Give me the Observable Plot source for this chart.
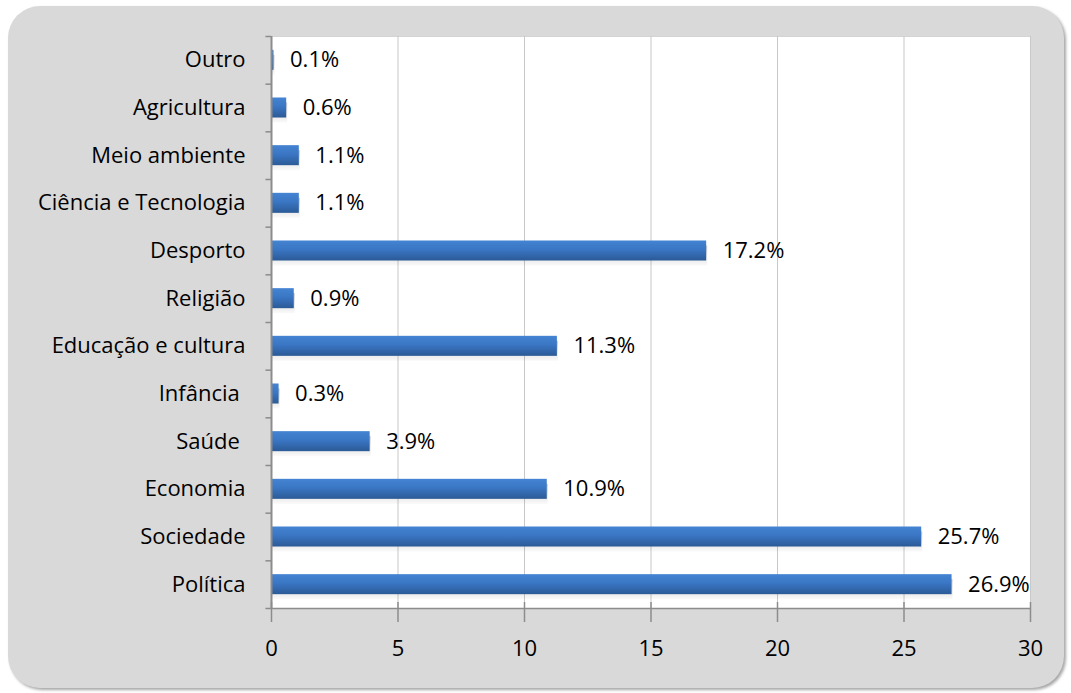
<!DOCTYPE html>
<html>
<head>
<meta charset="utf-8">
<script src="https://cdn.jsdelivr.net/npm/d3@7"></script>
<script src="https://cdn.jsdelivr.net/npm/@observablehq/plot@0.6"></script>
<style>
  html, body { margin: 0; padding: 0; background: #ffffff; }
  #wrap { position: relative; width: 1071px; height: 693px; overflow: hidden; }
  #panel {
    position: absolute; left: 8px; top: 6px; width: 1056px; height: 682px;
    background: #d9d9d9; border-radius: 32px;
    box-shadow: 2px 2px 3px rgba(0,0,0,0.35);
  }
  #chart { position: absolute; left: 0; top: 0; }
  #chart svg { background: transparent !important; }
</style>
</head>
<body>
<svg width="0" height="0" style="position:absolute">
  <defs>
    <linearGradient id="barGrad" x1="0" y1="0" x2="0" y2="1">
      <stop offset="0" stop-color="#4484d2"/>
      <stop offset="0.45" stop-color="#3a76c4"/>
      <stop offset="1" stop-color="#2b5a96"/>
    </linearGradient>
    <linearGradient id="shadowGrad" x1="0" y1="0" x2="0" y2="1">
      <stop offset="0" stop-color="#000" stop-opacity="0.22"/>
      <stop offset="1" stop-color="#000" stop-opacity="0.02"/>
    </linearGradient>
  </defs>
</svg>
<div id="wrap">
  <div id="panel"></div>
  <div id="chart"></div>
</div>
<script>
const categories = ["Outro", "Agricultura", "Meio ambiente", "Ciência e Tecnologia", "Desporto", "Religião", "Educação e cultura", "Infância\u00a0", "Saúde\u00a0", "Economia", "Sociedade", "Política"];
const values = [0.1, 0.6, 1.1, 1.1, 17.2, 0.9, 11.3, 0.3, 3.9, 10.9, 25.7, 26.9];
const valueLabels = ["0.1%", "0.6%", "1.1%", "1.1%", "17.2%", "0.9%", "11.3%", "0.3%", "3.9%", "10.9%", "25.7%", "26.9%"];
const xTicks = [0, 5, 10, 15, 20, 25, 30];

const data = categories.map((c, i) => ({cat: c, value: values[i], label: valueLabels[i]}));

const W = 1071, H = 693;
const mTop = 36, mBottom = 85, mLeft = 271, mRight = 41;
const step = (H - mTop - mBottom) / categories.length;
const font = "'Open Sans', sans-serif";

const chart = Plot.plot({
  width: W,
  height: H,
  marginTop: mTop,
  marginBottom: mBottom,
  marginLeft: mLeft,
  marginRight: mRight,
  style: {fontFamily: font, fontSize: "22px", color: "#000", background: "transparent"},
  x: {domain: [0, 30], ticks: xTicks, tickSize: 0, tickPadding: 32, label: null, tickFormat: d => String(d)},
  y: {domain: categories, paddingInner: 0.58, paddingOuter: 0.29, round: false, tickSize: 0, tickPadding: 26, label: null},
  marks: [
    Plot.frame({fill: "#ffffff", stroke: "#d4d4d4", strokeWidth: 1}),
    Plot.gridX(xTicks.filter(t => t > 0), {stroke: "#c8c8c8", strokeOpacity: 1, strokeWidth: 1}),
    // bar shadows
    Plot.barX(data, {y: "cat", x: "value", fill: "url(#shadowGrad)", dx: 1, dy: 5}),
    Plot.barX(data, {y: "cat", x: "value", fill: "url(#barGrad)"}),
    // axes lines
    Plot.ruleX([0], {stroke: "#8c8c8c", strokeWidth: 2}),
    Plot.ruleY([0], {y: () => categories[categories.length - 1], x1: 0, x2: 30, stroke: "#8c8c8c", strokeWidth: 1.5, dy: step / 2}),
    // y band boundary ticks
    Plot.ruleY(categories, {y: d => d, x1: -0.22, x2: 0, stroke: "#8c8c8c", strokeWidth: 1.5, dy: -step / 2}),
    Plot.ruleY([categories[categories.length - 1]], {y: d => d, x1: -0.22, x2: 0, stroke: "#8c8c8c", strokeWidth: 1.5, dy: step / 2}),
    // x ticks
    Plot.tickX(xTicks, {x: d => d, y: () => categories[categories.length - 1], stroke: "#8c8c8c", strokeWidth: 1.5, dy: step / 2 + 4, inset: 0}),
    Plot.text(data, {y: "cat", x: "value", text: "label", textAnchor: "start", dx: 16, fontSize: 22, fill: "#000"})
  ]
});
document.getElementById("chart").appendChild(chart);
</script>
</body>
</html>
